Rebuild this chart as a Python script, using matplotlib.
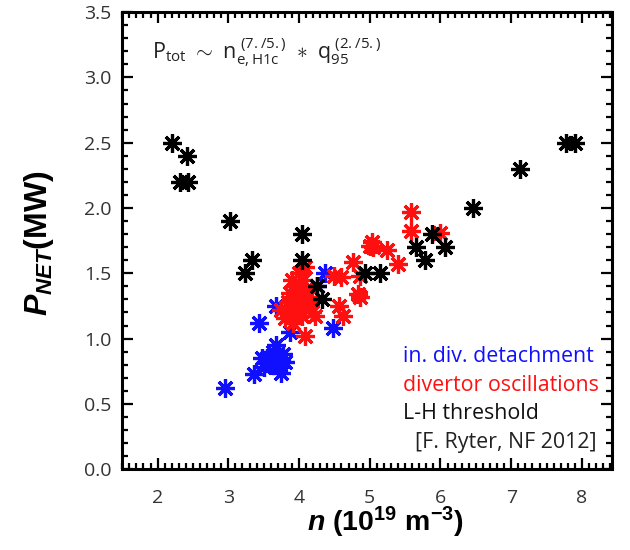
import matplotlib
matplotlib.use("Agg")
import matplotlib.pyplot as plt
from matplotlib.ticker import MultipleLocator

# ---------------- data ----------------
blue_x = [2.95, 3.37, 3.47, 3.55, 3.60, 3.63, 3.68, 3.73, 3.75, 3.78, 3.80, 3.50,
          3.44, 3.68, 3.87, 4.48, 4.36, 4.25]
blue_y = [0.62, 0.73, 0.85, 0.85, 0.80, 0.90, 0.95, 0.80, 0.74, 0.88, 0.82, 0.78,
          1.12, 1.25, 1.05, 1.08, 1.50, 1.40]

red_x = [3.75, 3.80, 3.84, 3.87, 3.90, 3.94, 3.98, 4.00, 4.02, 4.04, 4.08, 4.10,
         4.12, 4.15, 4.22, 3.85, 3.95, 4.05, 3.92, 4.00, 4.08, 4.18, 4.08,
         4.50, 4.57, 4.60, 4.62, 4.76, 4.83, 4.86, 4.86, 5.00, 5.03, 5.05,
         5.25, 5.40, 5.59, 5.59, 5.99]
red_y = [1.22, 1.16, 1.25, 1.35, 1.45, 1.40, 1.30, 1.50, 1.20, 1.17, 1.55, 1.38,
         1.32, 1.25, 1.17, 1.28, 1.22, 1.45, 1.12, 1.35, 1.28, 1.20, 1.02,
         1.48, 1.25, 1.47, 1.17, 1.59, 1.34, 1.48, 1.32, 1.71, 1.74, 1.70,
         1.68, 1.57, 1.97, 1.82, 1.81]

black_x = [2.20, 2.41, 2.31, 2.43, 3.02, 3.23, 3.33, 4.04, 4.04, 4.26, 4.33, 4.93,
           5.14, 5.66, 5.78, 5.88, 6.06, 6.46, 7.12, 7.78, 7.90]
black_y = [2.50, 2.40, 2.20, 2.20, 1.90, 1.50, 1.60, 1.80, 1.60, 1.40, 1.30, 1.50,
           1.50, 1.70, 1.60, 1.80, 1.70, 2.00, 2.30, 2.50, 2.50]

legend_labels = ["in. div. detachment", "divertor oscillations", "L-H threshold",
                 "[F. Ryter, NF 2012]"]
legend_colors = ["#1010ff", "#ff1010", "#111111", "#222222"]

x_ticks = [2, 3, 4, 5, 6, 7, 8]
y_ticks = [0.0, 0.5, 1.0, 1.5, 2.0, 2.5, 3.0, 3.5]

# ---------------- style ----------------
plt.rcParams["mathtext.fontset"] = "custom"
plt.rcParams["mathtext.rm"] = "Liberation Sans:bold"
plt.rcParams["mathtext.it"] = "Liberation Sans:italic:bold"
plt.rcParams["mathtext.bf"] = "Liberation Sans:bold"
plt.rcParams["mathtext.sf"] = "Open Sans"

fig = plt.figure(figsize=(6.3, 5.5), dpi=100)
ax = fig.add_axes([0.194, 0.147, 0.778, 0.831])

mk = (8, 2, 0)
ms = 13.5
mew = 2.3
ax.plot(blue_x, blue_y, linestyle="none", marker=mk, ms=ms, mew=mew, color="#1010ff")
ax.plot(red_x, red_y, linestyle="none", marker=mk, ms=ms, mew=mew, color="#ff1010")
ax.plot(black_x, black_y, linestyle="none", marker=mk, ms=ms, mew=mew, color="#000000")

ax.set_xlim(1.5, 8.43)
ax.set_ylim(0, 3.5)
ax.set_xticks(x_ticks)
ax.set_yticks(y_ticks)
ax.set_yticklabels([f"{v:.1f}" for v in y_ticks])
ax.xaxis.set_minor_locator(MultipleLocator(0.1))
ax.yaxis.set_minor_locator(MultipleLocator(0.1))
ax.tick_params(which="both", direction="in", top=True, right=True, width=1.6,
               labelsize=14, labelcolor="#333333")
ax.tick_params(axis="y", pad=8)
ax.tick_params(axis="x", pad=14)
ax.tick_params(which="major", length=8)
ax.tick_params(which="minor", length=4)
for lab in ax.get_xticklabels() + ax.get_yticklabels():
    lab.set_fontfamily("Open Sans")
for s in ax.spines.values():
    s.set_linewidth(2.2)

# annotation formula
ax.text(0.06, 0.912,
        r"$\mathsf{P_{tot}\ \sim\ n_{e,H1c}^{\ (7./5.)}\ \ast\ q_{95}^{\ (2./5.)}}$",
        transform=ax.transAxes, fontsize=15.5, color="#222222", ha="left", va="center")

# legend-like text
ys = [0.247, 0.184, 0.121, 0.058]
xs = [0.573, 0.573, 0.573, 0.598]
for lab, col, xx, yy in zip(legend_labels, legend_colors, xs, ys):
    ax.text(xx, yy, lab, transform=ax.transAxes, ha="left", va="center",
            fontsize=15.4, color=col, family="Open Sans")

# axis labels
fig.text(0.062, 0.558, r"$P_{NET}$(MW)", rotation=90,
         ha="center", va="center", fontsize=23, fontweight="bold",
         family="Liberation Sans")
fig.text(0.612, 0.05, r"$n$ (10$^{19}$ m$^{-3}$)", ha="center", va="center",
         fontsize=20.5, fontweight="bold", family="Liberation Sans")

fig.savefig("out.png", dpi=100)
